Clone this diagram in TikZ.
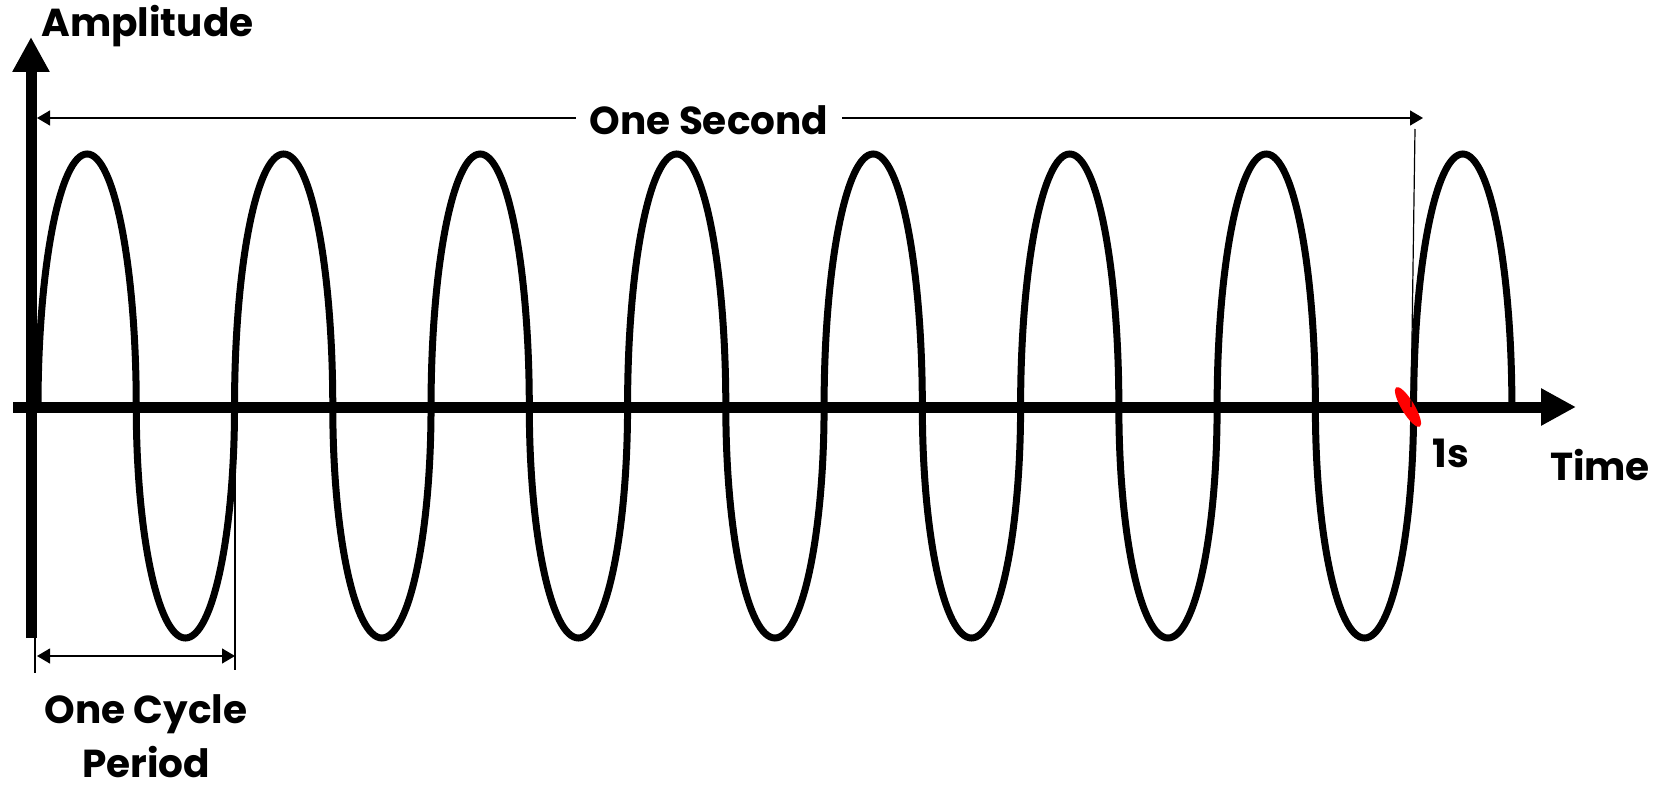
\documentclass[tikz,border=0pt]{standalone}
\usepackage{fontspec}
\setmainfont{Poppins}
\usetikzlibrary{arrows.meta,positioning,shapes.geometric}

\begin{document}
\begin{tikzpicture}[
    x=0.5pt,y=0.5pt,
    lbl/.style={font=\fontsize{19.5}{23}\selectfont\bfseries,inner sep=0pt},
    axis/.style={line width=5.5pt,-{Triangle[length=17.5pt,width=17.5pt]}},
    wave/.style={line width=3.5pt},
    dim/.style={line width=0.6pt},
    dimarrow/.style={dim,{Triangle[length=6.5pt,width=7.5pt]}-{Triangle[length=6.5pt,width=7.5pt]}},
    redmark/.style={ellipse,fill=red,minimum width=23pt,minimum height=6.5pt,inner sep=0pt}
]
    \useasboundingbox (0,0) rectangle (1656,789);

    % axes
    \coordinate (ybot) at (31,151);
    \coordinate (ytop) at (31,752);
    \coordinate (xleft) at (13,382);
    \coordinate (xright) at (1576,382);
    \draw[axis] (xleft) -- (xright);

    % the signal, 7.5 cycles
    \coordinate (w0) at (38,382);
    \draw[wave] (w0) foreach \k in {1,...,7} {
        arc[start angle=180,end angle=0,x radius=49.13,y radius=253]
        arc[start angle=180,end angle=360,x radius=49.13,y radius=231]}
        arc[start angle=180,end angle=0,x radius=49.13,y radius=253];

    \node[redmark,rotate=-59] (mark) at (1408,382) {};

    \draw[axis] (ybot) -- (ytop);

    \node[lbl,anchor=base west] (amp) at (41,752) {Amplitude};
    \node[lbl,anchor=base] (time) at (1600,309) {Time};
    \node[lbl,anchor=base] (ones) at (1451,322) {1s};

    % one second
    \coordinate (secL) at (37,671);
    \coordinate (secR) at (1423,671);
    \coordinate (secTop) at (1415,660);
    \coordinate (secBot) at (1411,382);
    \draw[dimarrow] (secL) -- (secR);
    \draw[dim] (secTop) -- (secBot);
    \node[lbl,fill=white,inner xsep=7pt,anchor=base] (sec) at (709,654) {One Second};

    % one period
    \coordinate (cycL) at (37,133);
    \coordinate (cycR) at (235,133);
    \coordinate (tickA) at (35,151);
    \coordinate (tickB) at (35,116);
    \coordinate (tickC) at (235,382);
    \coordinate (tickD) at (235,119);
    \draw[dim] (tickA) -- (tickB);
    \draw[dim] (tickC) -- (tickD);
    \draw[dimarrow] (cycL) -- (cycR);
    \node[lbl,anchor=base] (cycle) at (146,66) {One Cycle};
    \node[lbl,anchor=base] (period) at (146,12) {Period};
\end{tikzpicture}
\end{document}
